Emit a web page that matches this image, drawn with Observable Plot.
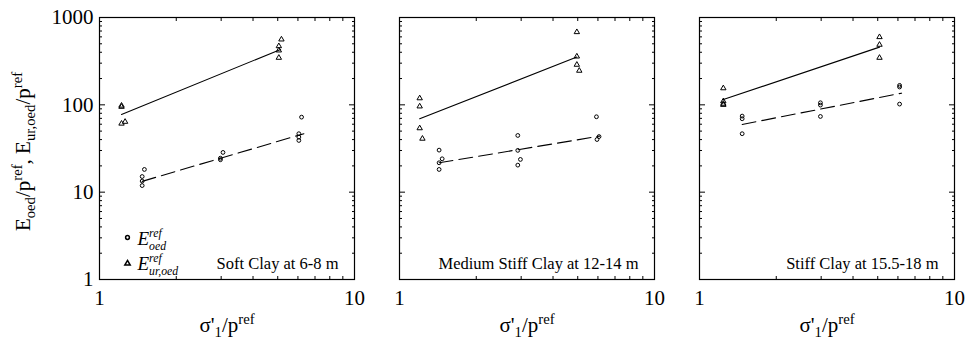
<!DOCTYPE html>
<html><head><meta charset="utf-8">
<script src="https://cdn.jsdelivr.net/npm/d3@7"></script>
<script src="https://cdn.jsdelivr.net/npm/@observablehq/plot@0.6"></script>
<style>html,body{margin:0;padding:0;background:#fff}#chart svg{display:block}
#chart svg, #chart svg text, #chart svg tspan{font-family:"Liberation Serif","Times New Roman",Times,serif !important}</style>
</head><body><div id="chart"></div>
<script>
const panels = ["Soft Clay at 6-8 m", "Medium Stiff Clay at 12-14 m", "Stiff Clay at 15.5-18 m"];

// E_oed^ref / p_ref points (circles)
const oedSoftX = [1.47, 1.47, 1.47, 1.50, 2.98, 2.98, 3.05, 6.05, 6.05, 6.05, 6.20];
const oedSoftY = [11.9, 13.4, 15.1, 18.2, 23.5, 24.5, 28.5, 39.1, 42.7, 46.7, 72.3];
const oedMedX = [1.43, 1.43, 1.43, 1.47, 2.91, 2.91, 2.91, 2.98, 5.92, 5.95, 6.06];
const oedMedY = [18.2, 21.7, 30.3, 24.1, 20.4, 30.1, 44.6, 23.7, 73.0, 40.1, 43.3];
const oedStiffX = [1.47, 1.47, 1.47, 2.98, 2.98, 2.98, 6.09, 6.09, 6.09];
const oedStiffY = [46.7, 69.3, 74.3, 73.6, 99.3, 105.6, 102, 160, 167];

// E_ur,oed^ref / p_ref points (triangles)
const urSoftX = [1.22, 1.22, 1.22, 1.26, 5.05, 5.05, 5.05, 5.17];
const urSoftY = [61, 95, 98, 64, 346, 420, 470, 561];
const urMedX = [1.20, 1.20, 1.20, 1.23, 4.96, 4.96, 4.96, 5.07];
const urMedY = [119, 96, 54, 41, 681, 358, 288, 246];
const urStiffX = [1.24, 1.24, 1.24, 1.24, 5.08, 5.08, 5.08];
const urStiffY = [100, 103, 110, 155, 346, 488, 597];

// fitted lines (end points) per panel
const fitOedX = [[1.47, 6.33], [1.43, 6.09], [1.47, 6.20]];
const fitOedY = [[13.3, 46.7], [21.7, 43.8], [59.6, 136]];
const fitUrX = [[1.22, 5.13], [1.20, 4.96], [1.24, 5.08]];
const fitUrY = [[77.6, 431], [69.3, 352], [115, 458]];

// ticks
const majorY = [1, 10, 100, 1000];
const minorY = [2, 3, 4, 5, 6, 7, 8, 9, 20, 30, 40, 50, 60, 70, 80, 90, 200, 300, 400, 500, 600, 700, 800, 900];
const majorX = [1, 10];
const minorX = [2, 3, 4, 5, 6, 7, 8, 9];

const xTitle = "σ'1/pref";
const yTitle = "Eoed/pref, Eur,oed/pref";
const legOed = "Eref oed";
const legUr = "Eref ur,oed";

// build tables
const oedSets = [[oedSoftX, oedSoftY], [oedMedX, oedMedY], [oedStiffX, oedStiffY]];
const urSets = [[urSoftX, urSoftY], [urMedX, urMedY], [urStiffX, urStiffY]];
const oedPts = [], urPts = [], fitOed = [], fitUr = [];
oedSets.forEach(([xs, ys], i) => xs.forEach((x, j) => oedPts.push({panel: panels[i], x, y: ys[j]})));
urSets.forEach(([xs, ys], i) => xs.forEach((x, j) => urPts.push({panel: panels[i], x, y: ys[j]})));
panels.forEach((p, i) => {
  fitOedX[i].forEach((x, j) => fitOed.push({panel: p, x, y: fitOedY[i][j]}));
  fitUrX[i].forEach((x, j) => fitUr.push({panel: p, x, y: fitUrY[i][j]}));
});

const serif = "Liberation Serif";
const tickOpts = (anchor, size) => ({anchor, tickSize: -size, fill: "none", label: null, facetAnchor: null, stroke: "black", strokeWidth: 1});

const chart = Plot.plot({
  width: 965, height: 341,
  marginLeft: 99, marginRight: 11, marginTop: 17, marginBottom: 62,
  style: {fontFamily: serif, color: "black", background: "white"},
  fx: {domain: panels, paddingInner: 0.15, paddingOuter: 0, axis: null},
  x: {type: "log", domain: [1, 10]},
  y: {type: "log", domain: [1, 1000]},
  marks: [
    Plot.axisY(minorY, tickOpts("left", 3)),
    Plot.axisY(minorY, tickOpts("right", 3)),
    Plot.axisY(majorY, tickOpts("left", 6)),
    Plot.axisY(majorY, tickOpts("right", 6)),
    Plot.axisX(minorX, tickOpts("bottom", 3)),
    Plot.axisX(minorX, tickOpts("top", 3)),
    Plot.axisX(majorX, tickOpts("bottom", 6)),
    Plot.axisX(majorX, tickOpts("top", 6)),
    Plot.axisY(majorY, {anchor: "left", tickSize: 0, tickPadding: 6, label: null, facetAnchor: "left", fontSize: 21, fontFamily: serif, tickFormat: d => String(d), fill: "black"}),
    Plot.axisX(majorX, {anchor: "bottom", tickSize: 0, tickPadding: 11, label: null, facetAnchor: null, fontSize: 21, fontFamily: serif, tickFormat: d => String(d), fill: "black"}),
    Plot.frame({stroke: "black", strokeWidth: 1.2}),
    Plot.line(fitUr, {fx: "panel", x: "x", y: "y", stroke: "black", strokeWidth: 1.1}),
    Plot.line(fitOed, {fx: "panel", x: "x", y: "y", stroke: "black", strokeWidth: 1.1, strokeDasharray: "14,6"}),
    Plot.dot(oedPts, {fx: "panel", x: "x", y: "y", r: 1.9, stroke: "black", fill: "none", strokeWidth: 1}),
    Plot.dot(urPts, {fx: "panel", x: "x", y: "y", r: 2, symbol: "triangle", stroke: "black", fill: "none", strokeWidth: 1}),
    Plot.text(panels, {fx: d => d, text: d => d, frameAnchor: "bottom-right", textAnchor: "end", lineAnchor: "middle", dx: -16, dy: -16, fontSize: 16.5, fontFamily: serif, fill: "black"}),
    Plot.text(panels, {fx: d => d, text: () => xTitle, frameAnchor: "bottom", textAnchor: "middle", lineAnchor: "middle", dy: 46, fontSize: 21, fontFamily: serif, fill: "black"}),
    Plot.text([yTitle], {fx: () => panels[0], text: d => d, frameAnchor: "left", rotate: -90, textAnchor: "middle", lineAnchor: "middle", dx: -76, dy: 3, fontSize: 21, fontFamily: serif, fill: "black"}),
    // legend
    Plot.dot(["oed"], {fx: () => panels[0], frameAnchor: "bottom-left", dx: 28, dy: -42, r: 1.9, stroke: "black", fill: "none"}),
    Plot.dot(["ur"], {fx: () => panels[0], frameAnchor: "bottom-left", dx: 28, dy: -16, r: 2, symbol: "triangle", stroke: "black", fill: "none"}),
    Plot.text([legOed], {fx: () => panels[0], text: d => d, frameAnchor: "bottom-left", textAnchor: "start", lineAnchor: "middle", dx: 38, dy: -41, fontSize: 19, fontFamily: serif, fontStyle: "italic", fill: "black"}),
    Plot.text([legUr], {fx: () => panels[0], text: d => d, frameAnchor: "bottom-left", textAnchor: "start", lineAnchor: "middle", dx: 38, dy: -16, fontSize: 19, fontFamily: serif, fontStyle: "italic", fill: "black"})
  ]
});
document.getElementById("chart").appendChild(chart);

// rich text: sub/superscripts as tspans
const NS = "http://www.w3.org/2000/svg";
const rich = new Map([
  [xTitle, {base: 21, scale: 0.7, parts: [["σ'", ""], ["1", "sub"], ["/p", ""], ["ref", "sup"]]}],
  [yTitle, {base: 21, scale: 0.7, parts: [["E", ""], ["oed", "sub"], ["/p", ""], ["ref", "sup"], [", E", ""], ["ur,oed", "sub"], ["/p", ""], ["ref", "sup"]]}],
  [legOed, {base: 19, scale: 0.62, parts: [["E", ""], ["ref", "sup"], ["oed", "stack"]]}],
  [legUr, {base: 19, scale: 0.62, parts: [["E", ""], ["ref", "sup"], ["ur,oed", "stack"]]}]
]);
chart.querySelectorAll("text").forEach(t => {
  const spec = rich.get(t.textContent);
  if (!spec) return;
  const {base, scale, parts} = spec;
  while (t.firstChild) t.removeChild(t.firstChild);
  let shift = 0, last = null;
  for (const [s, kind] of parts) {
    const ts = document.createElementNS(NS, "tspan");
    const target = kind === "sup" ? -0.4 * base : (kind === "sub" ? 0.25 * base : (kind === "stack" ? 0.3 * base : 0));
    ts.setAttribute("dy", target - shift);
    shift = target;
    if (kind) ts.setAttribute("font-size", scale * base);
    if (kind === "stack" && last) ts.setAttribute("dx", -last.getComputedTextLength());
    ts.textContent = s;
    t.appendChild(ts);
    last = ts;
  }
});
</script>
</body></html>
